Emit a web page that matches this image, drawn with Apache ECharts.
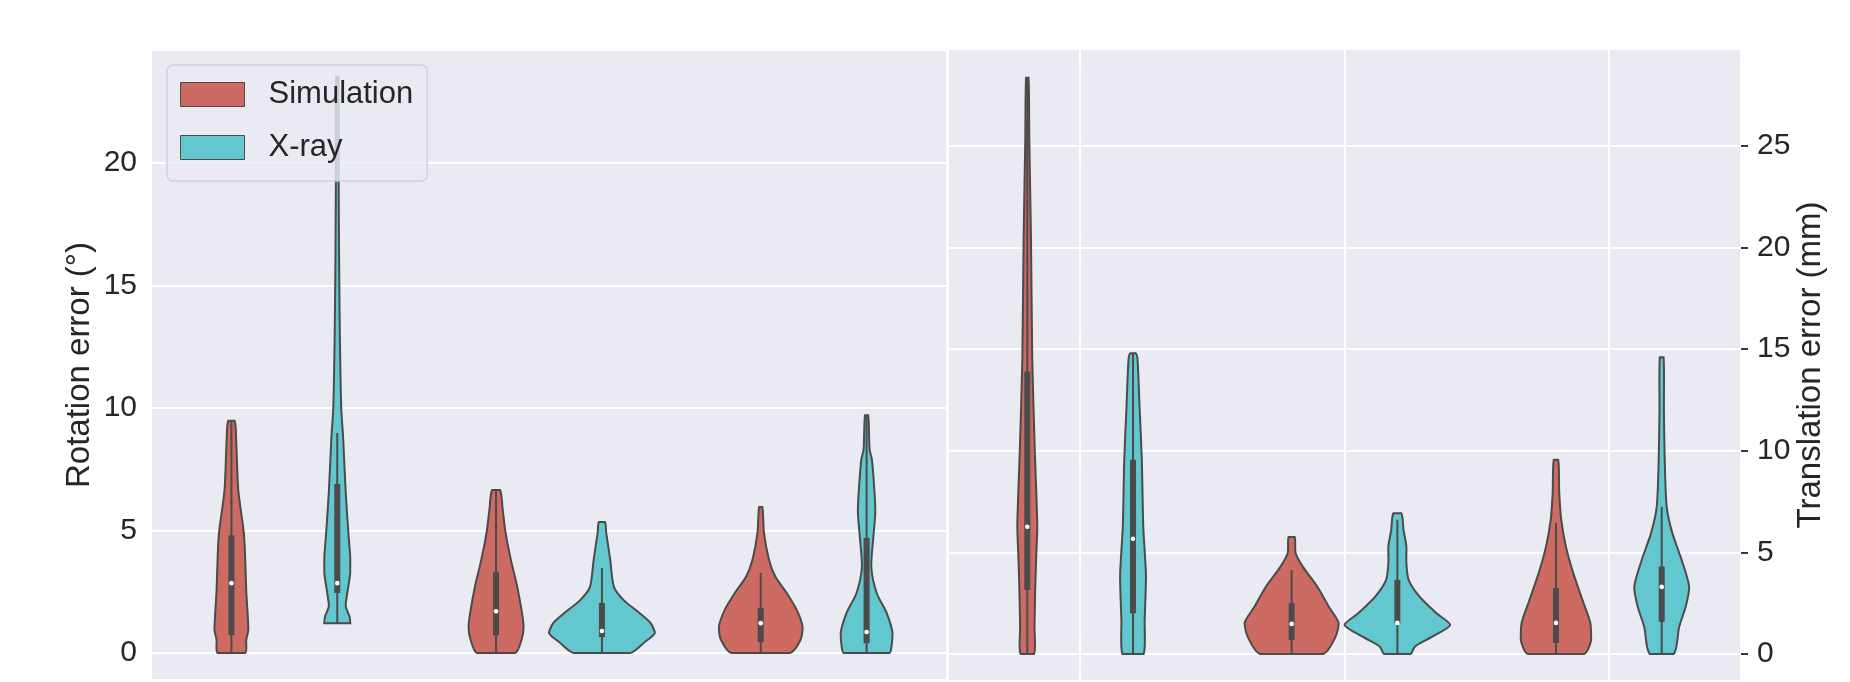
<!DOCTYPE html>
<html><head><meta charset="utf-8">
<script src="https://cdn.jsdelivr.net/npm/echarts@6/dist/echarts.min.js"></script>
<style>html,body{margin:0;padding:0;background:#fff}#c{width:1850px;height:682px}#err{position:absolute;left:300px;top:300px;color:#c00;font:14px monospace;white-space:pre}</style>
</head><body><div id="c"></div><div id="err"></div>
<script>
window.onerror = function (m, s, l, c, e) { document.getElementById('err').textContent = (e && e.stack) || m; };
// ---------- data ----------
const categories = ['Group 1', 'Group 2', 'Group 3'];
const seriesNames = ['Simulation', 'X-ray'];
const rotTicks = [0, 5, 10, 15, 20];
const transTicks = [0, 5, 10, 15, 20, 25];

// violin outlines: [value, relative half-width]
const rotSimProfiles = [
  [[0,0.26],[0.53,0.28],[0.94,0.32],[1.47,0.31],[2.57,0.28],[3.9,0.26],[4.9,0.235],[6.65,0.13],[8.7,0.09],[9.48,0.06]],
  [[0,0.36],[0.53,0.48],[1.07,0.52],[1.76,0.48],[2.7,0.40],[3.8,0.28],[4.9,0.18],[5.84,0.126],[6.65,0.075]],
  [[0,0.55],[0.53,0.75],[1.07,0.79],[1.76,0.68],[2.45,0.49],[3.1,0.28],[3.8,0.157],[4.9,0.062],[5.96,0.03]]
];
const rotXrayProfiles = [
  [[1.22,0.245],[1.5,0.23],[1.9,0.16],[2.45,0.19],[3.27,0.245],[3.9,0.245],[4.9,0.21],[6.65,0.157],[8.7,0.113],[10.0,0.075],[12.8,0.05],[16,0.035],[20,0.025],[23.5,0.02]],
  [[0,0.53],[0.45,0.81],[0.82,1.0],[1.22,0.92],[1.63,0.71],[2.16,0.41],[2.7,0.226],[3.8,0.157],[4.9,0.081],[5.35,0.057]],
  [[0,0.43],[0.25,0.47],[0.82,0.49],[1.63,0.38],[2.45,0.19],[3.5,0.089],[4.7,0.126],[5.7,0.164],[6.5,0.151],[7.9,0.1],[8.3,0.057],[9.7,0.03]]
];
const transSimProfiles = [
  [[0,0.126],[1.33,0.136],[3.0,0.148],[4.6,0.166],[6.26,0.189],[10.0,0.142],[14.5,0.094],[20.4,0.07],[25.3,0.038],[28.36,0.023]],
  [[0,0.6],[0.84,0.83],[1.53,0.89],[2.3,0.71],[3.3,0.49],[4.3,0.21],[4.97,0.075],[5.76,0.057]],
  [[0,0.53],[0.69,0.666],[1.53,0.65],[2.66,0.5],[3.99,0.326],[5.27,0.189],[6.6,0.1],[7.93,0.062],[9.56,0.042]]
];
const transXrayProfiles = [
  [[0,0.2],[1.67,0.22],[3.8,0.245],[6.26,0.194],[9.56,0.166],[12.0,0.126],[14.5,0.085],[14.8,0.05]],
  [[0,0.25],[0.36,0.33],[0.85,0.66],[1.43,1.0],[2.0,0.74],[2.82,0.42],[3.65,0.213],[4.48,0.17],[5.29,0.17],[6.1,0.117],[6.93,0.075]],
  [[0,0.226],[1.33,0.33],[2.32,0.453],[3.3,0.52],[4.63,0.377],[5.96,0.2],[7.24,0.094],[9.56,0.057],[12.0,0.042],[14.6,0.035]]
];

// inner box: [whiskerLow, q1, median, q3, whiskerHigh]
const rotSimBoxes   = [[0,0.73,2.85,4.8,9.48],[0,0.73,1.7,3.3,6.65],[0,0.45,1.22,1.84,3.27]];
const rotXrayBoxes  = [[1.22,2.45,2.85,6.9,8.98],[0,0.65,0.9,2.04,3.47],[0,0.4,0.86,4.7,9.7]];
const transSimBoxes = [[0,3.15,6.26,13.9,28.36],[0,0.69,1.48,2.5,4.14],[0,0.54,1.53,3.25,6.45]];
const transXrayBoxes= [[0,2.0,5.67,9.56,14.8],[0,1.5,1.53,3.65,6.6],[0,1.58,3.3,4.3,7.24]];

// ---------- styling ----------
const RED = '#cd6a62', CYAN = '#62c7cf', LINE = '#4b4b4b';
const BG = '#eaeaf2', TXT = '#262626';
const FONT = "'Liberation Sans', Arial, sans-serif";
const SLOT = 0.2;   // half-width of a hue slot, in category units

function violinSeries(name, color, profiles, boxes, axisIdx, offset) {
  return {
    type: 'custom', name: name, xAxisIndex: axisIdx, yAxisIndex: axisIdx, z: 3,
    itemStyle: { color: color, borderColor: LINE, borderWidth: 1.2 },
    data: boxes.map((b, i) => [i].concat(b)),
    renderItem: function (params, api) {
      const cat = api.value(0);
      const prof = profiles[params.dataIndex];
      const unit = api.size([1, 0])[0];
      const half = unit * SLOT;
      const cx = api.coord([cat + offset, 0])[0];
      const L = [], R = [];
      prof.forEach(p => {
        const y = api.coord([cat, p[0]])[1];
        L.push([cx - p[1] * half, y]);
        R.push([cx + p[1] * half, y]);
      });
      const pts = L.concat(R.reverse());
      let mnx = Infinity, mny = Infinity, mxx = -Infinity, mxy = -Infinity;
      pts.forEach(q => { mnx = Math.min(mnx, q[0]); mny = Math.min(mny, q[1]); mxx = Math.max(mxx, q[0]); mxy = Math.max(mxy, q[1]); });
      const yv = k => api.coord([cat, api.value(k)])[1];
      const yLow = yv(1), yQ1 = yv(2), yMed = yv(3), yQ3 = yv(4), yHigh = yv(5);
      return { type: 'group', children: [
        { type: 'polygon', shape: { points: pts, smooth: 0.25, smoothConstraint: [[mnx, mny], [mxx, mxy]] },
          style: { fill: color, stroke: LINE, lineWidth: 2 } },
        { type: 'line', shape: { x1: cx, y1: yLow, x2: cx, y2: yHigh },
          style: { stroke: LINE, lineWidth: 2 } },
        { type: 'rect', shape: { x: cx - 3, y: yQ3, width: 6, height: yQ1 - yQ3 },
          style: { fill: LINE } },
        { type: 'circle', shape: { cx: cx, cy: yMed, r: 2.3 }, style: { fill: '#ffffff' } }
      ]};
    }
  };
}

const chart = echarts.init(document.getElementById('c'), null, { renderer: 'canvas' });
chart.setOption({
  backgroundColor: '#ffffff',
  animation: false,
  textStyle: { fontFamily: FONT },
  grid: [
    { left: 152, top: 50, width: 794, bottom: 2, show: true, backgroundColor: BG, borderWidth: 0, containLabel: false },
    { left: 948, top: 50, width: 793, bottom: 2, show: true, backgroundColor: BG, borderWidth: 0, containLabel: false }
  ],
  legend: {
    data: seriesNames, orient: 'vertical', left: 167, top: 65,
    padding: [14, 14, 18, 13], itemWidth: 64, itemHeight: 24, itemGap: 22, icon: 'rect',
    backgroundColor: 'rgba(234,234,242,0.8)', borderColor: 'rgba(204,204,204,0.8)',
    borderWidth: 1.5, borderRadius: 6,
    itemStyle: { borderColor: LINE, borderWidth: 1 },
    textStyle: { fontSize: 31, color: TXT, fontFamily: FONT, padding: [0, 0, 0, 19] }
  },
  xAxis: [
    { type: 'value', gridIndex: 0, min: -0.5, max: 2.5, splitNumber: 3,
      axisLine: { show: false, onZero: false }, axisTick: { show: false }, axisLabel: { show: false },
      splitLine: { show: false } },
    { type: 'value', gridIndex: 1, min: -0.5, max: 2.5, splitNumber: 3,
      axisLine: { show: false, onZero: false }, axisTick: { show: false }, axisLabel: { show: false },
      splitLine: { show: true, lineStyle: { color: '#ffffff', width: 2 } } }
  ],
  yAxis: [
    { type: 'value', gridIndex: 0, min: -1.1, max: 24.6, position: 'left',
      name: 'Rotation error (°)', nameLocation: 'middle', nameGap: 56,
      nameTextStyle: { fontSize: 33, color: TXT, fontFamily: FONT },
      axisLine: { show: false, onZero: false }, axisTick: { show: false },
      axisLabel: { fontSize: 30, color: TXT, margin: 15, fontFamily: FONT, customValues: rotTicks },
      splitLine: { show: true, lineStyle: { color: '#ffffff', width: 2 } } },
    { type: 'value', gridIndex: 1, min: -1.28, max: 29.72, position: 'right',
      name: 'Translation error (mm)', nameLocation: 'middle', nameGap: 50,
      nameTextStyle: { fontSize: 33, color: TXT, fontFamily: FONT },
      axisLine: { show: false, onZero: false },
      axisTick: { show: true, length: 7, lineStyle: { color: '#3a3a3a', width: 2 }, customValues: transTicks },
      axisLabel: { fontSize: 30, color: TXT, margin: 16, fontFamily: FONT, customValues: transTicks },
      splitLine: { show: true, lineStyle: { color: '#ffffff', width: 2 } } }
  ],
  series: [
    violinSeries(seriesNames[0], RED, rotSimProfiles, rotSimBoxes, 0, -SLOT),
    violinSeries(seriesNames[1], CYAN, rotXrayProfiles, rotXrayBoxes, 0, SLOT),
    violinSeries(seriesNames[0], RED, transSimProfiles, transSimBoxes, 1, -SLOT),
    violinSeries(seriesNames[1], CYAN, transXrayProfiles, transXrayBoxes, 1, SLOT)
  ]
});
</script></body></html>
